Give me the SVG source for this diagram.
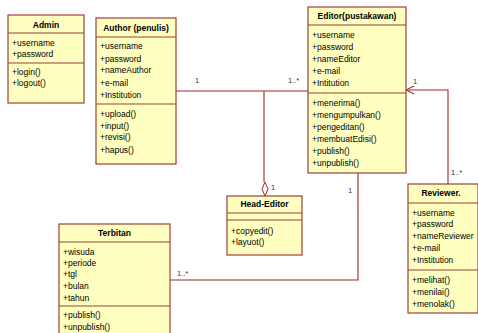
<svg xmlns="http://www.w3.org/2000/svg" width="478" height="333" viewBox="0 0 478 333">
<style>
.box{fill:#ffffc0;stroke:#a0403a;stroke-width:1.2}
.sep{stroke:#a0403a;stroke-width:1.2}
.t{font-family:"Liberation Sans",Arial,sans-serif;font-size:8.5px;fill:#000}
.h{font-family:"Liberation Sans",Arial,sans-serif;font-size:8.5px;font-weight:bold;fill:#000;text-anchor:middle}
.ln{fill:none;stroke:#9b2a2a;stroke-width:1.1}
.lbl{font-family:"Liberation Sans",Arial,sans-serif;font-size:7.5px;fill:#333}
</style>
<defs>
<marker id="open" markerWidth="10" markerHeight="10" refX="9" refY="5" orient="auto" markerUnits="userSpaceOnUse">
<path d="M1,1 L9,5 L1,9" fill="none" stroke="#9b2a2a" stroke-width="1.1"/>
</marker>
</defs>
<rect width="478" height="333" fill="#fff"/>
<g id="connectors">
<path class="ln" d="M176,91 H308"/>
<path class="ln" d="M264,91 V182"/>
<path d="M265,182 L268,189 L265,196 L262,189 Z" fill="#fff" stroke="#9b2a2a" stroke-width="1"/>
<path class="ln" d="M448,184 V90 H406" marker-end="url(#open)"/>
<path class="ln" d="M358,173 V280 H170"/>
<text class="lbl" x="195" y="83">1</text>
<text class="lbl" x="288" y="83">1..*</text>
<text class="lbl" x="413" y="84">1</text>
<text class="lbl" x="451" y="175">1..*</text>
<text class="lbl" x="348" y="193">1</text>
<text class="lbl" x="271" y="190">1</text>
<text class="lbl" x="177" y="276">1..*</text>
</g>
<g id="admin">
<rect class="box" x="8" y="15" width="76" height="88"/>
<line class="sep" x1="8" y1="33" x2="84" y2="33"/>
<line class="sep" x1="8" y1="63" x2="84" y2="63"/>
<text class="h" x="46" y="28">Admin</text>
<text class="t" x="12" y="46">+username</text>
<text class="t" x="12" y="57">+password</text>
<text class="t" x="12" y="75">+login()</text>
<text class="t" x="12" y="86">+logout()</text>
</g>
<g id="author">
<rect class="box" x="96" y="18" width="80" height="146"/>
<line class="sep" x1="96" y1="37" x2="176" y2="37"/>
<line class="sep" x1="96" y1="104" x2="176" y2="104"/>
<text class="h" x="136" y="31">Author (penulis)</text>
<text class="t" x="100" y="49">+username</text>
<text class="t" x="100" y="62">+password</text>
<text class="t" x="100" y="73">+nameAuthor</text>
<text class="t" x="100" y="86">+e-mail</text>
<text class="t" x="100" y="98">+Institution</text>
<text class="t" x="100" y="117">+upload()</text>
<text class="t" x="100" y="129">+input()</text>
<text class="t" x="100" y="140">+revisi()</text>
<text class="t" x="100" y="153">+hapus()</text>
</g>
<g id="editor">
<rect class="box" x="308" y="7" width="98" height="166"/>
<line class="sep" x1="308" y1="25" x2="406" y2="25"/>
<line class="sep" x1="308" y1="93" x2="406" y2="93"/>
<text class="h" x="357" y="19">Editor(pustakawan)</text>
<text class="t" x="312" y="38">+username</text>
<text class="t" x="312" y="50">+password</text>
<text class="t" x="312" y="62">+nameEditor</text>
<text class="t" x="312" y="74">+e-mail</text>
<text class="t" x="312" y="86">+Intitution</text>
<text class="t" x="312" y="106">+menerima()</text>
<text class="t" x="312" y="118">+mengumpulkan()</text>
<text class="t" x="312" y="130">+pengeditan()</text>
<text class="t" x="312" y="142">+membuatEdisi()</text>
<text class="t" x="312" y="154">+publish()</text>
<text class="t" x="312" y="166">+unpublish()</text>
</g>
<g id="head-editor">
<rect class="box" x="227" y="196" width="75" height="59"/>
<line class="sep" x1="227" y1="213" x2="302" y2="213"/>
<line class="sep" x1="227" y1="220" x2="302" y2="220"/>
<text class="h" x="264.500" y="207">Head-Editor</text>
<text class="t" x="231" y="234">+copyedit()</text>
<text class="t" x="231" y="245">+layuot()</text>
</g>
<g id="reviewer">
<rect class="box" x="408" y="184" width="70" height="129"/>
<line class="sep" x1="408" y1="203" x2="478" y2="203"/>
<line class="sep" x1="408" y1="270" x2="478" y2="270"/>
<text class="h" x="441" y="196">Reviewer.</text>
<text class="t" x="412" y="216">+username</text>
<text class="t" x="412" y="227">+password</text>
<text class="t" x="412" y="239">+nameReviewer</text>
<text class="t" x="412" y="251">+e-mail</text>
<text class="t" x="412" y="263">+Institution</text>
<text class="t" x="412" y="283">+melihat()</text>
<text class="t" x="412" y="295">+menilai()</text>
<text class="t" x="412" y="307">+menolak()</text>
</g>
<g id="terbitan">
<rect class="box" x="59" y="224" width="111" height="120"/>
<line class="sep" x1="59" y1="242" x2="170" y2="242"/>
<line class="sep" x1="59" y1="306" x2="170" y2="306"/>
<text class="h" x="114.500" y="236">Terbitan</text>
<text class="t" x="63" y="255">+wisuda</text>
<text class="t" x="63" y="266">+periode</text>
<text class="t" x="63" y="277">+tgl</text>
<text class="t" x="63" y="289">+bulan</text>
<text class="t" x="63" y="301">+tahun</text>
<text class="t" x="63" y="318">+publish()</text>
<text class="t" x="63" y="330">+unpublish()</text>
</g>
</svg>
